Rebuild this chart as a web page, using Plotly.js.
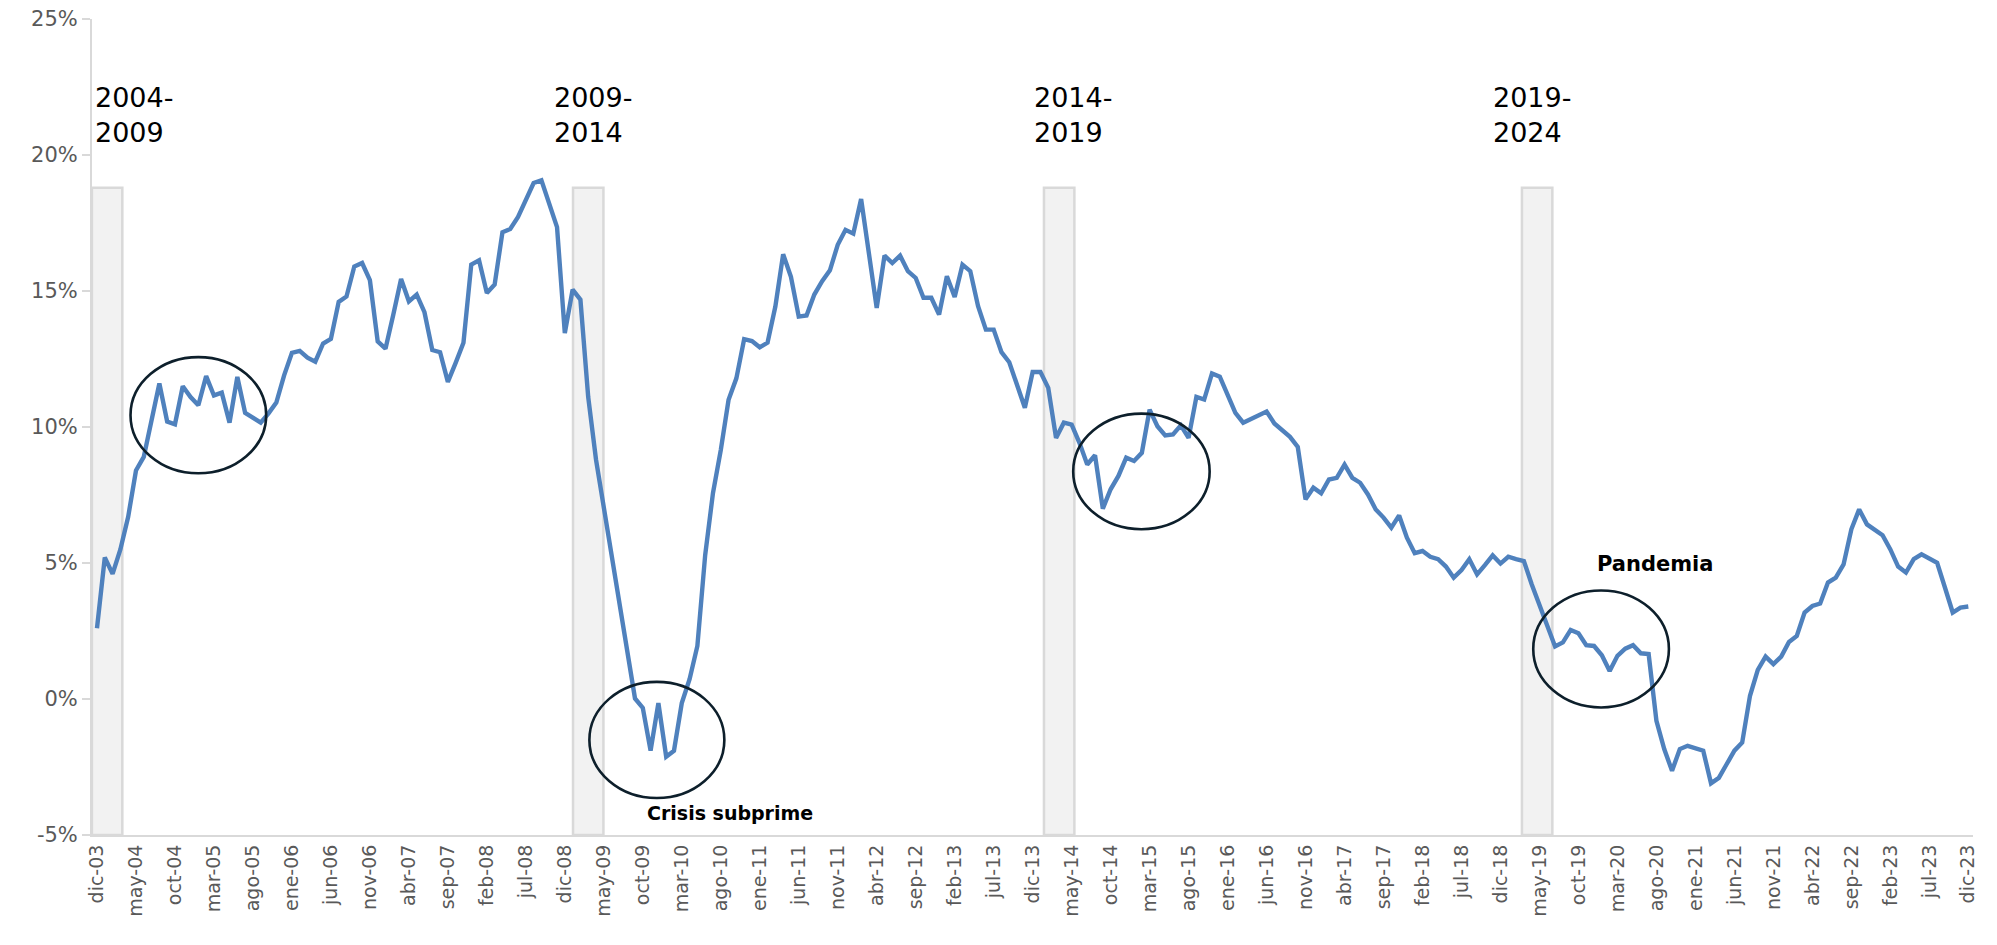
<!DOCTYPE html>
<html>
<head>
<meta charset="utf-8">
<script src="https://cdn.plot.ly/plotly-3.0.1.min.js"></script>
<style>html,body{margin:0;padding:0;background:#fff;}#chart{width:1997px;height:945px;}</style>
</head>
<body>
<div id="chart"></div>
<script>
// Monthly series, dic-03 .. dic-23 (percent)
const monthNames = ['ene','feb','mar','abr','may','jun','jul','ago','sep','oct','nov','dic'];
const startYear = 2003;
const startMonth = 11; // dic
const values = [
 2.6, 5.2, 4.6, 5.5, 6.7, 8.4, 8.9, 10.2, 11.6, 10.2,
 10.1, 11.5, 11.1, 10.8, 11.87, 11.16, 11.26, 10.16, 11.84, 10.52,
 10.35, 10.16, 10.5, 10.9, 11.9, 12.73, 12.8, 12.55, 12.4, 13.07,
 13.24, 14.6, 14.8, 15.9, 16.03, 15.4, 13.15, 12.88, 14.13, 15.44,
 14.62, 14.87, 14.22, 12.83, 12.75, 11.66, 12.36, 13.1, 15.97, 16.13,
 14.93, 15.24, 17.16, 17.28, 17.72, 18.36, 18.97, 19.07, 18.17, 17.35,
 13.45, 15.05, 14.68, 11.1, 8.8, 7.05, 5.1, 3.35, 1.78, 0.02,
 -0.33, -1.9, -0.15, -2.12, -1.9, -0.15, 0.73, 1.95, 5.29, 7.57,
 9.15, 11.0, 11.79, 13.23, 13.16, 12.93, 13.1, 14.43, 16.35, 15.52,
 14.06, 14.1, 14.87, 15.36, 15.76, 16.7, 17.25, 17.11, 18.38, 16.4,
 14.38, 16.3, 16.03, 16.3, 15.73, 15.48, 14.75, 14.75, 14.13, 15.54,
 14.78, 15.97, 15.73, 14.44, 13.58, 13.58, 12.75, 12.38, 11.53, 10.71,
 12.02, 12.02, 11.44, 9.6, 10.16, 10.09, 9.42, 8.62, 8.96, 7.0,
 7.71, 8.2, 8.87, 8.75, 9.05, 10.64, 10.03, 9.69, 9.73, 10.06,
 9.6, 11.11, 11.01, 11.97, 11.85, 11.2, 10.52, 10.16, 10.3, 10.45,
 10.57, 10.13, 9.91, 9.64, 9.27, 7.34, 7.77, 7.56, 8.07, 8.13,
 8.62, 8.13, 7.95, 7.52, 6.97, 6.67, 6.3, 6.75, 5.93, 5.36,
 5.44, 5.23, 5.14, 4.87, 4.46, 4.74, 5.14, 4.58, 4.92, 5.28,
 4.98, 5.23, 5.14, 5.07, 4.22, 3.42, 2.69, 1.93, 2.08, 2.54,
 2.42, 1.98, 1.95, 1.61, 1.03, 1.59, 1.85, 1.98, 1.68, 1.65,
 -0.8, -1.84, -2.64, -1.84, -1.72, -1.82, -1.9, -3.1, -2.9, -2.4,
 -1.9, -1.6, 0.12, 1.07, 1.56, 1.28, 1.56, 2.1, 2.32, 3.18,
 3.42, 3.51, 4.28, 4.46, 4.95, 6.24, 6.97, 6.42, 6.24, 6.02,
 5.5, 4.87, 4.65, 5.14, 5.32, 5.16, 5.01, 4.1, 3.18, 3.36,
 3.4
];
// Period marker columns (month index of centre, top value in %)
const periodLabels = ['2004-<br>2009', '2009-<br>2014', '2014-<br>2019', '2019-<br>2024'];
const periodIndex = [1.3, 63, 123.4, 184.7];
const periodTop = [18.8, 18.8, 18.8, 18.8];
const axisMin = -5;
const yTicks = [-5, 0, 5, 10, 15, 20, 25];

// Build category labels
const idx = values.map((_, i) => i);
const labels = idx.map(i => {
  const m = startMonth + i;
  const y = startYear + Math.floor(m / 12);
  return monthNames[m % 12] + '-' + String(y % 100).padStart(2, '0');
});
const tickvals = idx.filter(i => i % 5 === 0);
const ticktext = tickvals.map(i => labels[i]);

const barTrace = {
  type: 'bar',
  x: periodIndex,
  y: periodTop.map(t => t - axisMin),
  base: axisMin,
  width: 3.9,
  marker: {color: '#f2f2f2', line: {color: '#d9d9d9', width: 2.5}},
  hoverinfo: 'skip',
  showlegend: false
};
const lineTrace = {
  type: 'scatter',
  mode: 'lines',
  x: idx,
  y: values,
  line: {color: '#4f81bd', width: 4.4},
  showlegend: false
};

// Ellipse highlights: [x0, x1, y0, y1] in month index / percent
const ellipses = [
  [4.3, 21.7, 8.3, 12.57],
  [63.15, 80.46, -3.64, 0.63],
  [125.2, 142.7, 6.24, 10.49],
  [184.2, 201.6, -0.31, 3.99]
];
const shapes = ellipses.map(e => ({
  type: 'circle', xref: 'x', yref: 'y',
  x0: e[0], x1: e[1], y0: e[2], y1: e[3],
  line: {color: '#0d1f2b', width: 2.6}, fillcolor: 'rgba(0,0,0,0)', layer: 'above'
}));

const periodTextX = [-0.55, 58.3, 119.9, 178.8];
const annotations = periodLabels.map((t, k) => ({
  xref: 'x', yref: 'y', x: periodTextX[k], y: 22.75,
  xanchor: 'left', yanchor: 'top', align: 'left', showarrow: false,
  text: t, font: {family: 'DejaVu Sans', size: 27, color: '#000000'}
}));
annotations.push({
  xref: 'x', yref: 'y', x: 81.2, y: -4.19, showarrow: false,
  text: 'Crisis subprime', font: {family: 'DejaVu Sans', size: 19, color: '#000000', weight: 'bold'}
});
annotations.push({
  xref: 'x', yref: 'y', x: 199.8, y: 4.98, showarrow: false,
  text: 'Pandemia', font: {family: 'DejaVu Sans', size: 21, color: '#000000', weight: 'bold'}
});

const layout = {
  width: 1997, height: 945,
  margin: {l: 91.7, r: 23.6, t: 19.1, b: 109.5, pad: 0},
  paper_bgcolor: '#ffffff', plot_bgcolor: '#ffffff',
  showlegend: false,
  xaxis: {
    type: 'linear', range: [-0.64, 240.6],
    tickmode: 'array', tickvals: tickvals, ticktext: ticktext,
    tickangle: -90, ticks: '', showgrid: false, zeroline: false,
    showline: true, linecolor: '#d9d9d9', linewidth: 2,
    tickfont: {family: 'DejaVu Sans', size: 19, color: '#595959'},
    automargin: false
  },
  yaxis: {
    range: [axisMin, 25], tickmode: 'array', tickvals: yTicks,
    ticktext: yTicks.map(v => v + '%'),
    ticks: 'outside', ticklen: 8, tickcolor: '#d9d9d9', tickwidth: 2,
    showgrid: false, zeroline: false,
    showline: true, linecolor: '#d9d9d9', linewidth: 2,
    tickfont: {family: 'DejaVu Sans', size: 21, color: '#595959'},
    automargin: false
  },
  shapes: shapes,
  annotations: annotations,
  bargap: 0
};

Plotly.newPlot('chart', [barTrace, lineTrace], layout, {displayModeBar: false, staticPlot: true});
</script>
</body>
</html>
